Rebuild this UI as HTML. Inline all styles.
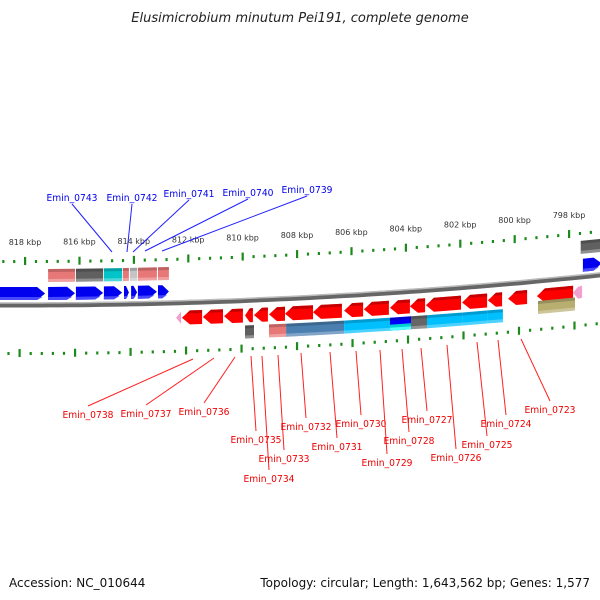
<!DOCTYPE html>
<html><head><meta charset="utf-8">
<style>
html,body{margin:0;padding:0;background:#fff;}
svg{display:block;font-family:"DejaVu Sans","Liberation Sans",sans-serif;}
</style></head>
<body>
<svg id="chart" width="600" height="600" viewBox="0 0 600 600" xmlns="http://www.w3.org/2000/svg">
<text x="300" y="22" text-anchor="middle" font-size="13" font-style="italic" fill="#222">Elusimicrobium minutum Pei191, complete genome</text>
<g id="layer"></g>
<text x="9" y="587" font-size="12" fill="#111">Accession: NC_010644</text>
<text x="590" y="587" text-anchor="end" font-size="12" fill="#111">Topology: circular; Length: 1,643,562 bp; Genes: 1,577</text>
</svg>
<script>
// data (positions in kbp)
const tickLabels = [818,816,814,812,810,808,806,804,802,800,798];
const fwdGenes = [[818.92,817.26],[817.15,816.16],[816.13,815.13],[815.10,814.43],[814.36,814.18],[814.10,813.88],[813.85,813.15],[813.11,812.71],[797.49,796.80]];
const revGenes = [[812.23,811.49],[811.46,810.72],[810.68,809.99],[809.91,809.62],[809.58,809.07],[809.03,808.44],[808.44,807.41],[807.41,806.35],[806.27,805.57],[805.54,804.62],[804.58,803.85],[803.85,803.29],[803.26,801.97],[801.93,801.01],[800.98,800.46],[800.24,799.54],[799.18,797.85]];
const pinkRev = [[812.45,812.26],[797.85,797.52]];
const topFeat = [[817.15,816.16,'#e87878'],[816.13,815.13,'#606060'],[815.10,814.43,'#00c4c8'],[814.40,814.18,'#e87878'],[814.14,813.88,'#c4c4c4'],[813.85,813.15,'#e87878'],[813.11,812.71,'#e87878'],[797.57,796.80,'#606060']];
const botFeat = [[809.91,809.58,'#606060'],[809.03,808.40,'#e87878'],[808.40,807.34,'#4a7fb0'],[807.34,806.27,'#4a7fb0'],[806.27,805.50,'#00bfff'],[805.50,804.58,'#00bfff'],[804.58,803.81,'#0000ff'],[803.81,803.22,'#666'],[803.22,801.90,'#00bfff'],[801.90,800.98,'#00bfff'],[800.98,800.43,'#00bfff']];
const oliveFeat = [[799.14,797.78]];
const topLabels = ['Emin_0743','Emin_0742','Emin_0741','Emin_0740','Emin_0739'];
const topLabelPos = [[72,201,112,252],[132,201,127,252],[189,197,133,252],[248,196,145,251],[307,193,162,251]];
const botLabels = ['Emin_0738','Emin_0737','Emin_0736','Emin_0735','Emin_0734','Emin_0733','Emin_0732','Emin_0731','Emin_0730','Emin_0729','Emin_0728','Emin_0727','Emin_0726','Emin_0725','Emin_0724','Emin_0723'];
const botLabelPos = [[88,418,193,359],[146,417,214,358],[204,415,235,357],[256,443,251,356],[269,482,262,356],[284,462,278,355],[306,430,301,353],[337,450,330,352],[361,427,356,351],[387,466,380,350],[409,444,402,349],[427,423,421,348],[456,461,447,345],[487,448,477,342],[506,427,498,340],[550,413,521,339]];

const NS='http://www.w3.org/2000/svg';
const layer=document.getElementById('layer');
function X(k){return 25+(818-k)*27.2;}
function Y(x){return 306+0.0033*x-0.000089*x*x;}
function mk(tag,attrs,parent){const e=document.createElementNS(NS,tag);for(const a in attrs)e.setAttribute(a,attrs[a]);(parent||layer).appendChild(e);return e;}
function poly(pts,fill,name){
  const e=mk('polygon',{points:pts.map(p=>p[0].toFixed(1)+','+p[1].toFixed(1)).join(' '),fill:fill});
  
  
  return e;
}
function band(x1,x2,o1,o2,fill,name){
  const e=poly([[x1,Y(x1)+o1],[x2,Y(x2)+o1],[x2,Y(x2)+o2],[x1,Y(x1)+o2]],fill,name);
  const s=mk('polygon',{points:[[x1,Y(x1)+o1],[x2,Y(x2)+o1],[x2,Y(x2)+o1+3],[x1,Y(x1)+o1+3]].map(p=>p.join(',')).join(' '),fill:'rgba(0,0,0,0.18)'});
  
  
  const l=mk('polygon',{points:[[x1,Y(x1)+o2-3],[x2,Y(x2)+o2-3],[x2,Y(x2)+o2],[x1,Y(x1)+o2]].map(p=>p.join(',')).join(' '),fill:'rgba(255,255,255,0.3)'});
  
  
  return e;
}
function arrow(x1,x2,o1,o2,dir,fill,name){
  const h=Math.min(8,(x2-x1)*0.6);
  let pts;
  const m=(o1+o2)/2;
  if(dir>0) pts=[[x1,Y(x1)+o1],[x2-h,Y(x2-h)+o1],[x2,Y(x2)+m],[x2-h,Y(x2-h)+o2],[x1,Y(x1)+o2]];
  else pts=[[x1,Y(x1)+m],[x1+h,Y(x1+h)+o1],[x2,Y(x2)+o1],[x2,Y(x2)+o2],[x1+h,Y(x1+h)+o2]];
  poly(pts,fill,name);
  const sh=dir>0?[[x1,Y(x1)+o2-3],[x2-h,Y(x2-h)+o2-3],[x2-h*0.3,Y(x2)+o2-3],[x2-h,Y(x2-h)+o2],[x1,Y(x1)+o2]]:
    [[x1+h,Y(x1+h)+o1],[x2,Y(x2)+o1],[x2,Y(x2)+o1+3],[x1+h*0.6,Y(x1+h)+o1+3]];
  const s=mk('polygon',{points:sh.map(p=>p[0].toFixed(1)+','+p[1].toFixed(1)).join(' '),fill:dir>0?'rgba(80,80,255,0.9)':'rgba(160,0,0,0.6)'});
  
  
}
// backbone
{
  let d='';for(let x=0;x<=600;x+=10){d+=(x?'L':'M')+x+','+(Y(x)-1).toFixed(1);}
  let p=mk('path',{d:d,stroke:'#666','stroke-width':5,fill:'none'});
  
  
  let p2=mk('path',{d:d,stroke:'#bbb','stroke-width':1.5,fill:'none',transform:'translate(0,-2)'});
  
  
}
// ticks
for(let k=819.2;k>=795.9;k-=0.4){
  const kr=Math.round(k*10)/10;
  const x=X(kr);
  if(x<-3||x>603)continue;
  const major=Math.abs(kr/2-Math.round(kr/2))<0.01;
  for(const off of [-45,47]){
    const xx=off>0?x+(x-300)*0.02:x;
    const r=mk('rect',major?{x:xx-1,y:Y(xx)+off-4,width:2.2,height:8,fill:'#1a8a1a'}:{x:xx-1,y:Y(xx)+off-1,width:2.2,height:3,fill:'#1a8a1a'});
    
    
  }
}
tickLabels.forEach(k=>{
  const x=X(k);
  const t=mk('text',{x:x,y:(Y(x)-61).toFixed(1),'text-anchor':'middle','font-size':8,fill:'#333'});
  t.textContent=k+' kbp';
  
  
});
// features
topFeat.forEach(f=>band(X(f[0]),X(f[1]),-37,-24,f[2],'top-feature'));
fwdGenes.forEach(g=>arrow(X(g[0]),X(g[1]),-19,-6,1,'#0000ee','forward-gene'));
revGenes.forEach(g=>arrow(X(g[0]),X(g[1]),7,21,-1,'#ff0000','reverse-gene'));
pinkRev.forEach(g=>{const x1=X(g[0]),x2=X(g[1]);poly([[x1,Y(x1)+14],[x1+5,Y(x1)+8],[x2,Y(x2)+8],[x2,Y(x2)+20],[x1+5,Y(x1)+20]],'#f2a0d0','pseudo-gene');});
botFeat.forEach(f=>{
  const x1=X(f[0]),x2=X(f[1]);
  band(x1,x2,24,37,f[2],'bottom-feature');
  if(f[2]==='#0000ff') band(x1,x2,31,37,'#00ffff','bottom-feature-split');
});
oliveFeat.forEach(f=>band(X(f[0]),X(f[1]),19,32,'#b8ae70','olive-feature'));
// labels
topLabels.forEach((s,i)=>{
  const p=topLabelPos[i];
  const l=mk('line',{x1:p[0],y1:p[1]+3,x2:p[2],y2:p[3],stroke:'#2020ff','stroke-width':1});
  
  
  const t=mk('text',{x:p[0],y:p[1],'text-anchor':'middle','font-size':10,fill:'#0000ee',textLength:51,lengthAdjust:'spacingAndGlyphs'});
  t.textContent=s;
  
  
});
botLabels.forEach((s,i)=>{
  const p=botLabelPos[i];
  const l=mk('line',{x1:p[2],y1:p[3],x2:p[0],y2:p[1]-12,stroke:'#ff2020','stroke-width':1});
  
  
  const t=mk('text',{x:p[0],y:p[1],'text-anchor':'middle','font-size':10,fill:'#ee0000',textLength:51,lengthAdjust:'spacingAndGlyphs'});
  t.textContent=s;
  
  
});
</script>
</body></html>
